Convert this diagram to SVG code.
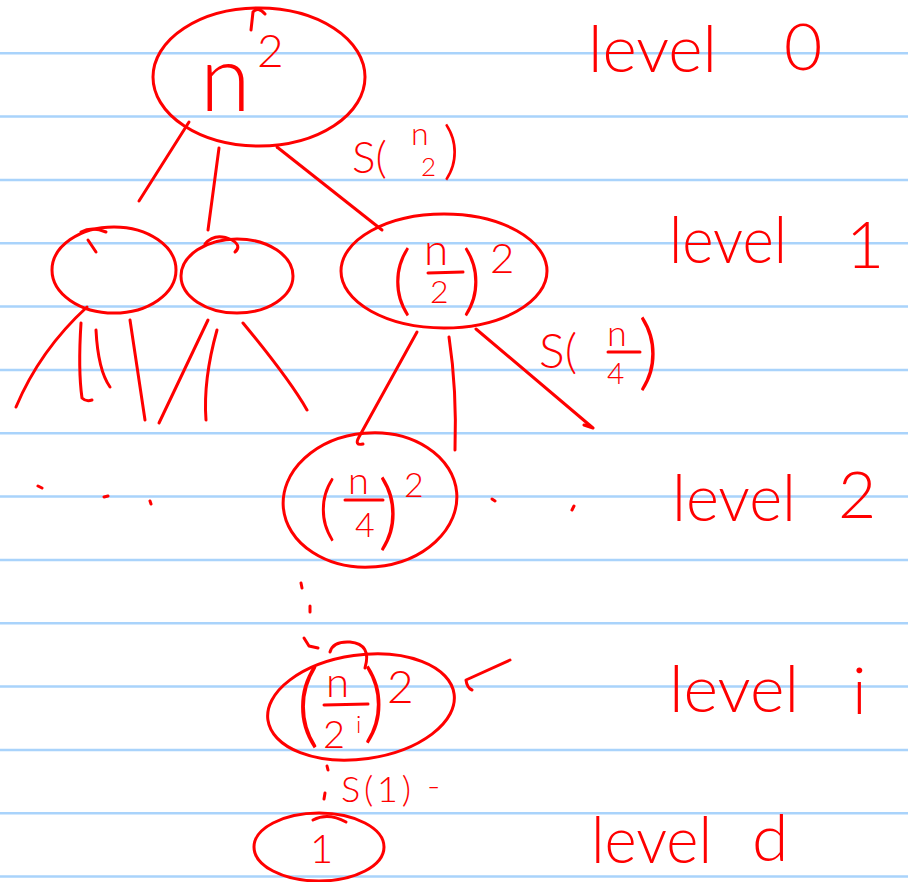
<svg xmlns="http://www.w3.org/2000/svg" width="908" height="882" viewBox="0 0 908 882">
<style>
.rule{stroke:#a9d3fb;stroke-width:2.5}
.ink{fill:none;stroke:#f00;stroke-width:3;stroke-linecap:round;stroke-linejoin:round}
.t{fill:#f00;font-family:Lato,"Liberation Sans",sans-serif;font-weight:300}
.lv{font-size:66px}
</style>
<rect width="908" height="882" fill="#fff"/>
<g id="paper">
<line class="rule" x1="0" y1="53.3" x2="908" y2="53.3"/>
<line class="rule" x1="0" y1="116.6" x2="908" y2="116.6"/>
<line class="rule" x1="0" y1="180" x2="908" y2="180"/>
<line class="rule" x1="0" y1="243.3" x2="908" y2="243.3"/>
<line class="rule" x1="0" y1="306.6" x2="908" y2="306.6"/>
<line class="rule" x1="0" y1="370" x2="908" y2="370"/>
<line class="rule" x1="0" y1="433.3" x2="908" y2="433.3"/>
<line class="rule" x1="0" y1="496.6" x2="908" y2="496.6"/>
<line class="rule" x1="0" y1="560" x2="908" y2="560"/>
<line class="rule" x1="0" y1="623.3" x2="908" y2="623.3"/>
<line class="rule" x1="0" y1="686.6" x2="908" y2="686.6"/>
<line class="rule" x1="0" y1="750" x2="908" y2="750"/>
<line class="rule" x1="0" y1="813.3" x2="908" y2="813.3"/>
<line class="rule" x1="0" y1="876.6" x2="908" y2="876.6"/>
</g>
<g id="connectors">
<path class="ink" d="M189,122 L139,201"/>
<path class="ink" d="M219,148 L208,230"/>
<path class="ink" d="M277,147 L382,230"/>
<path class="ink" d="M87,307 Q40,350 16,407"/>
<path class="ink" d="M81,323 Q78,370 82,398 Q86,402 92,400"/>
<path class="ink" d="M96,330 Q98,370 110,387"/>
<path class="ink" d="M130,320 L145,420"/>
<path class="ink" d="M208,320 L159,423"/>
<path class="ink" d="M217,330 Q203,380 206,420"/>
<path class="ink" d="M243,323 Q290,380 307,410"/>
<path class="ink" d="M417,332 L359,437 Q354,446 363,444"/>
<path class="ink" d="M449,337 Q457,390 455,450"/>
<path class="ink" d="M476,329 L593,428 L584,425"/>
<path class="ink" d="M301,583 L302,588 M310,606 L310,612 M304,638 L309,646 L318,648"/>
<path class="ink" d="M327,766 L328,770 M325,793 L324,799"/>
</g>
<g id="root">
<ellipse class="ink" cx="259" cy="77" rx="106" ry="69"/>
<path class="ink" d="M251,30 L253,12 Q258,6 265,14"/>
<text class="t" x="200" y="111" font-size="92">n</text>
<text class="t" x="257" y="67" font-size="46">2</text>
</g>
<g id="n1a">
<ellipse class="ink" cx="114" cy="270" rx="62" ry="43"/>
<path class="ink" d="M81,232 Q92,226 106,232 M88,240 L96,252"/>
</g>
<g id="n1b">
<ellipse class="ink" cx="237" cy="276" rx="56" ry="37"/>
<path class="ink" d="M205,244 Q215,232 232,240 Q242,246 235,252"/>
</g>
<g id="n1c">
<ellipse class="ink" cx="444" cy="271" rx="103" ry="57"/>
<text class="t" x="392" y="306" font-size="76">(</text>
<text class="t" x="424" y="265" font-size="44">n</text>
<line class="ink" x1="428" y1="273" x2="463" y2="272"/>
<text class="t" x="430" y="303" font-size="32">2</text>
<text class="t" x="462" y="306" font-size="76">)</text>
<text class="t" x="490" y="273" font-size="42">2</text>
</g>
<g id="n2">
<ellipse class="ink" cx="370" cy="500" rx="87" ry="67" transform="rotate(-5 370 500)"/>
<text class="t" x="318" y="532" font-size="70">(</text>
<text class="t" x="348" y="494" font-size="38">n</text>
<line class="ink" x1="345" y1="500" x2="383" y2="500"/>
<text class="t" x="355" y="537" font-size="34">4</text>
<text class="t" x="378" y="540" font-size="82">)</text>
<text class="t" x="404" y="497" font-size="34">2</text>
</g>
<g id="ni">
<ellipse class="ink" cx="361" cy="707" rx="94" ry="52" transform="rotate(-8 361 707)"/>
<path class="ink" d="M330,652 Q333,641 350,642 Q372,644 365,668"/>
<text class="t" x="296" y="736" font-size="92">(</text>
<text class="t" x="326" y="697" font-size="42">n</text>
<line class="ink" x1="324" y1="705" x2="368" y2="704"/>
<text class="t" x="323" y="748" font-size="38">2</text>
<text class="t" x="356" y="733" font-size="24">i</text>
<text class="t" x="363" y="732" font-size="86">)</text>
<text class="t" x="387" y="703" font-size="46">2</text>
</g>
<g id="nd">
<ellipse class="ink" cx="319" cy="847" rx="65" ry="34"/>
<path class="ink" d="M313,820 Q328,812 346,822"/>
<text class="t" x="310" y="863" font-size="40">1</text>
</g>
<g id="labels">
<text class="t" x="352" y="173" font-size="44">S(</text>
<text class="t" x="411" y="145" font-size="32">n</text>
<text class="t" x="421" y="176" font-size="26">2</text>
<text class="t" x="443" y="172" font-size="64">)</text>
<text class="t" x="539" y="368" font-size="48">S(</text>
<text class="t" x="607" y="346" font-size="36">n</text>
<line class="ink" x1="608" y1="352" x2="640" y2="352"/>
<text class="t" x="607" y="384" font-size="30">4</text>
<text class="t" x="638" y="380" font-size="82">)</text>
<text class="t" x="341" y="802" font-size="36" textLength="70" lengthAdjust="spacing">S(1)</text>
<text class="t" x="427" y="798" font-size="36">-</text>
<path class="ink" d="M38,486 L42,488 M104,497 L108,496 M150,501 L151,504 M492,499 L495,501 M574,506 L572,510"/>
<path class="ink" d="M510,660 L466,680 Q467,688 472,690"/>
</g>
<g id="levels">
<text class="t lv" x="588" y="72" textLength="129" lengthAdjust="spacingAndGlyphs">level</text>
<text class="t lv" x="784" y="70">0</text>
<text class="t lv" x="669" y="263" textLength="118" lengthAdjust="spacingAndGlyphs">level</text>
<text class="t lv" x="846" y="268">1</text>
<text class="t lv" x="672" y="521" textLength="124" lengthAdjust="spacingAndGlyphs">level</text>
<text class="t lv" x="838" y="518">2</text>
<text class="t lv" x="669" y="712" textLength="130" lengthAdjust="spacingAndGlyphs">level</text>
<text class="t lv" x="852" y="714">i</text>
<text class="t lv" x="591" y="863" textLength="121" lengthAdjust="spacingAndGlyphs">level</text>
<text class="t lv" x="752" y="861">d</text>
</g>
</svg>
